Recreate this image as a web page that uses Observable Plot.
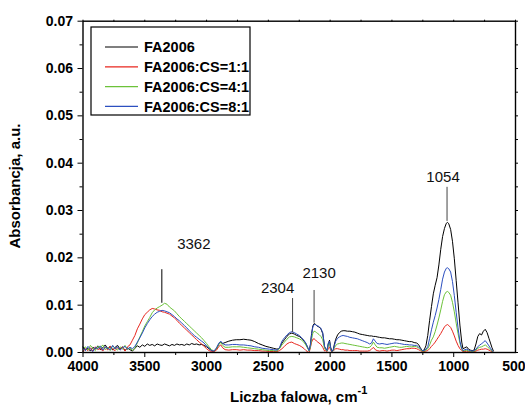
<!DOCTYPE html>
<html><head><meta charset="utf-8">
<script src="https://cdn.jsdelivr.net/npm/d3@7"></script>
<script src="https://cdn.jsdelivr.net/npm/@observablehq/plot@0.6"></script>
<style>
html,body{margin:0;padding:0;background:#fff;}
#chart{position:relative;width:525px;height:414px;}
</style></head><body><div id="chart"></div>
<script>
// Wavenumber grid (cm-1), shared by all series
const wavenumber = [
  4000,3980,3960,3940,3920,3900,3880,3860,3840,3820,3800,3780,3760,3740,3720,3700,3680,3660,3640,3620,3600,
  3580,3560,3540,3520,3500,3480,3460,3440,3420,3400,3380,3360,3340,3320,3300,3280,3260,3240,3220,3200,3180,3160,3140,3120,3100,3080,3060,3040,3020,3000,2980,2960,2940,
  2920,2900,2885,2870,2850,2820,2790,2760,2730,2700,2670,2640,2610,2580,2550,2520,2490,2460,2430,2410,
  2390,2370,2350,2330,2310,2290,2270,2250,2230,2210,2195,2180,2170,2160,2150,2140,2130,2120,2110,2100,2090,2075,2060,2045,
  2035,2025,2015,2005,1995,1985,1975,1965,1955,1940,1925,1910,1895,1880,1860,1840,1820,1800,1780,1760,1740,1720,1700,1680,1665,1650,1635,1620,1600,1580,1560,1540,1520,1500,1480,1460,1440,1420,1400,1380,1360,1340,1320,1300,1285,1270,1255,
  1240,1225,1210,1195,1180,1165,1150,1135,1120,1105,1090,1075,1060,1050,1040,1025,1010,995,980,965,950,935,925,910,895,880,865,850,835,820,805,790,775,760,745,730,715,700,690,680
];
const fa2006 = [
  0.0012,0.0005,0.0009,0.0003,0.0011,0.0007,0.0014,0.0006,0.0010,0.0016,0.0008,0.0013,0.0005,0.0011,0.0015,0.0007,0.0012,0.0004,0.0010,0.0006,0.0003,
  0.0009,0.0014,0.0011,0.0016,0.0013,0.0018,0.0015,0.0017,0.0014,0.0018,0.0016,0.0015,0.0018,0.0016,0.0014,0.0017,0.0015,0.0018,0.0016,0.0017,0.0015,0.0018,0.0016,0.0019,0.0017,0.0018,0.0016,0.0017,0.0015,0.0012,0.0008,0.0004,0.0002,
  0.0008,0.0018,0.0022,0.0019,0.0021,0.0024,0.0026,0.0027,0.0027,0.0028,0.0027,0.0026,0.0023,0.0019,0.0016,0.0013,0.0011,0.0009,0.0007,0.0009,
  0.0020,0.0027,0.0034,0.0039,0.0041,0.0039,0.0036,0.0034,0.0030,0.0024,0.0018,0.0009,0.0004,0.0016,0.0040,0.0056,0.0061,0.0060,0.0057,0.0055,0.0054,0.0050,0.0040,0.0012,
  0.0008,0.0004,0.0018,0.0026,0.0010,0.0003,0.0006,0.0018,0.0028,0.0037,0.0042,0.0045,0.0046,0.0046,0.0045,0.0045,0.0044,0.0043,0.0041,0.0039,0.0038,0.0037,0.0036,0.0035,0.0035,0.0034,0.0034,0.0033,0.0032,0.0031,0.0031,0.0030,0.0029,0.0029,0.0028,0.0027,0.0027,0.0026,0.0025,0.0024,0.0023,0.0023,0.0021,0.0020,0.0017,0.0010,0.0004,
  0.0005,0.0014,0.0036,0.0068,0.0097,0.0124,0.0142,0.0158,0.0185,0.0218,0.0245,0.0262,0.0273,0.0275,0.0272,0.0260,0.0235,0.0198,0.0152,0.0105,0.0058,0.0022,0.0008,0.0010,0.0012,0.0007,0.0005,0.0004,0.0005,0.0018,0.0034,0.0040,0.0037,0.0045,0.0049,0.0042,0.0030,0.0018,0.0010,0.0004
];
const fa2006cs11 = [
  0.0002,0.0008,0.0004,0.0010,0.0003,0.0012,0.0006,0.0009,0.0003,0.0011,0.0005,0.0013,0.0007,0.0004,0.0010,0.0006,0.0012,0.0003,0.0012,0.0016,0.0026,
  0.0036,0.0050,0.0060,0.0071,0.0080,0.0085,0.0090,0.0093,0.0092,0.0090,0.0089,0.0086,0.0085,0.0083,0.0081,0.0077,0.0073,0.0068,0.0062,0.0057,0.0052,0.0047,0.0042,0.0037,0.0032,0.0027,0.0022,0.0018,0.0013,0.0008,0.0004,0.0002,0.0002,
  0.0005,0.0013,0.0016,0.0010,0.0006,0.0005,0.0006,0.0006,0.0005,0.0006,0.0005,0.0005,0.0004,0.0004,0.0003,0.0003,0.0002,0.0002,0.0002,0.0004,
  0.0008,0.0013,0.0018,0.0021,0.0022,0.0019,0.0017,0.0015,0.0012,0.0008,0.0004,0.0001,0.0000,0.0010,0.0022,0.0028,0.0029,0.0027,0.0024,0.0022,0.0020,0.0017,0.0011,0.0003,
  0.0004,0.0002,0.0008,0.0012,0.0004,0.0001,0.0003,0.0006,0.0008,0.0008,0.0007,0.0006,0.0006,0.0005,0.0005,0.0004,0.0004,0.0004,0.0004,0.0003,0.0003,0.0003,0.0003,0.0004,0.0007,0.0011,0.0006,0.0004,0.0003,0.0004,0.0004,0.0003,0.0004,0.0005,0.0005,0.0004,0.0005,0.0006,0.0007,0.0008,0.0008,0.0009,0.0009,0.0008,0.0006,0.0004,0.0002,
  0.0002,0.0003,0.0004,0.0008,0.0013,0.0017,0.0022,0.0028,0.0034,0.0040,0.0047,0.0054,0.0058,0.0059,0.0057,0.0053,0.0045,0.0035,0.0024,0.0015,0.0008,0.0004,0.0002,0.0002,0.0003,0.0002,0.0002,0.0001,0.0002,0.0003,0.0005,0.0006,0.0007,0.0007,0.0008,0.0007,0.0005,0.0003,0.0002,0.0001
];
const fa2006cs41 = [
  0.0008,0.0012,0.0005,0.0015,0.0009,0.0004,0.0013,0.0010,0.0016,0.0006,0.0011,0.0004,0.0014,0.0009,0.0005,0.0012,0.0007,0.0015,0.0006,0.0010,0.0004,
  0.0010,0.0020,0.0033,0.0044,0.0056,0.0065,0.0074,0.0084,0.0090,0.0094,0.0097,0.0100,0.0104,0.0102,0.0096,0.0092,0.0088,0.0082,0.0076,0.0071,0.0066,0.0061,0.0056,0.0051,0.0046,0.0041,0.0036,0.0031,0.0025,0.0019,0.0012,0.0006,0.0003,
  0.0008,0.0018,0.0021,0.0015,0.0011,0.0011,0.0012,0.0012,0.0012,0.0011,0.0010,0.0009,0.0008,0.0007,0.0006,0.0005,0.0004,0.0004,0.0003,0.0008,
  0.0016,0.0022,0.0028,0.0033,0.0034,0.0033,0.0031,0.0029,0.0026,0.0021,0.0015,0.0008,0.0003,0.0011,0.0028,0.0041,0.0045,0.0044,0.0042,0.0040,0.0038,0.0034,0.0027,0.0008,
  0.0006,0.0003,0.0017,0.0020,0.0006,0.0002,0.0004,0.0010,0.0015,0.0018,0.0019,0.0020,0.0020,0.0019,0.0018,0.0017,0.0016,0.0015,0.0014,0.0013,0.0012,0.0011,0.0010,0.0011,0.0015,0.0022,0.0016,0.0011,0.0010,0.0010,0.0009,0.0010,0.0011,0.0012,0.0013,0.0012,0.0011,0.0011,0.0012,0.0013,0.0012,0.0012,0.0013,0.0012,0.0010,0.0006,0.0003,
  0.0003,0.0005,0.0008,0.0016,0.0026,0.0033,0.0044,0.0058,0.0073,0.0090,0.0108,0.0122,0.0128,0.0129,0.0127,0.0121,0.0106,0.0086,0.0062,0.0040,0.0020,0.0007,0.0003,0.0004,0.0005,0.0003,0.0003,0.0002,0.0003,0.0005,0.0009,0.0011,0.0012,0.0014,0.0016,0.0013,0.0009,0.0005,0.0003,0.0001
];
const fa2006cs81 = [
  0.0010,0.0004,0.0013,0.0007,0.0002,0.0011,0.0008,0.0014,0.0005,0.0012,0.0009,0.0006,0.0015,0.0008,0.0012,0.0005,0.0010,0.0013,0.0007,0.0011,0.0008,
  0.0013,0.0022,0.0031,0.0041,0.0052,0.0061,0.0069,0.0076,0.0081,0.0085,0.0087,0.0089,0.0088,0.0086,0.0084,0.0080,0.0076,0.0071,0.0067,0.0062,0.0057,0.0052,0.0046,0.0041,0.0036,0.0032,0.0028,0.0024,0.0020,0.0014,0.0009,0.0004,0.0003,
  0.0010,0.0020,0.0024,0.0019,0.0016,0.0016,0.0017,0.0017,0.0016,0.0016,0.0015,0.0014,0.0012,0.0011,0.0009,0.0008,0.0007,0.0006,0.0005,0.0010,
  0.0024,0.0031,0.0037,0.0042,0.0044,0.0042,0.0039,0.0036,0.0031,0.0025,0.0019,0.0010,0.0004,0.0015,0.0038,0.0054,0.0059,0.0059,0.0057,0.0056,0.0055,0.0051,0.0042,0.0013,
  0.0008,0.0004,0.0020,0.0024,0.0008,0.0002,0.0005,0.0015,0.0024,0.0030,0.0033,0.0035,0.0036,0.0035,0.0034,0.0032,0.0031,0.0030,0.0029,0.0027,0.0025,0.0023,0.0021,0.0018,0.0020,0.0029,0.0024,0.0019,0.0018,0.0019,0.0018,0.0017,0.0018,0.0019,0.0020,0.0020,0.0019,0.0018,0.0017,0.0017,0.0016,0.0016,0.0015,0.0015,0.0012,0.0008,0.0004,
  0.0004,0.0007,0.0012,0.0030,0.0048,0.0064,0.0078,0.0094,0.0112,0.0133,0.0155,0.0170,0.0178,0.0179,0.0177,0.0170,0.0150,0.0120,0.0085,0.0052,0.0024,0.0008,0.0004,0.0006,0.0007,0.0005,0.0004,0.0003,0.0004,0.0007,0.0012,0.0016,0.0018,0.0022,0.0025,0.0020,0.0014,0.0008,0.0004,0.0002
];
const seriesNames = ["FA2006", "FA2006:CS=1:1", "FA2006:CS=4:1", "FA2006:CS=8:1"];
const seriesColors = ["#000000", "#e8261e", "#6cc23a", "#2c4fc0"];
const xMajorTicks = [4000, 3500, 3000, 2500, 2000, 1500, 1000];
const xEdgeTick = [500];
const xMinorTicks = [3750, 3250, 2750, 2250, 1750, 1250, 750];
const yMajorTicks = [0, 0.01, 0.02, 0.03, 0.04, 0.05, 0.06, 0.07];
const yMinorTicks = [0.005, 0.015, 0.025, 0.035, 0.045, 0.055, 0.065];
const peakLabels = ["3362", "2304", "2130", "1054"];
const peakWavenumber = [3362, 2304, 2130, 1054];
const peakLineLow = [0.0104, 0.0042, 0.0062, 0.0277];
const peakLineHigh = [0.0175, 0.0114, 0.0131, 0.0349];

const allSeries = [fa2006, fa2006cs11, fa2006cs41, fa2006cs81];
const rows = [];
allSeries.forEach((vals, i) => vals.forEach((v, j) => rows.push({wn: wavenumber[j], a: v, s: seriesNames[i]})));
const peaks = peakLabels.map((t, i) => ({t, wn: peakWavenumber[i], lo: peakLineLow[i], hi: peakLineHigh[i]}));
const labelOffsets = [[32, -25], [-15, -10], [5, -17], [-4, -10]];
const blank = () => "";

const svg = Plot.plot({
  width: 525, height: 414,
  marginLeft: 82.5, marginRight: 10, marginTop: 20.7, marginBottom: 62,
  style: {fontFamily: "'Liberation Sans', Arial, sans-serif", fontSize: "14px", fontWeight: "bold", color: "#000", background: "#fff"},
  x: {domain: [4000, 500]},
  y: {domain: [0, 0.07]},
  color: {domain: seriesNames, range: seriesColors},
  marks: [
    Plot.line(rows, {x: "wn", y: "a", z: "s", stroke: "s", strokeWidth: 1}),
    Plot.ruleX(peaks, {x: "wn", y1: "lo", y2: "hi", stroke: (d, i) => i === 0 ? "#000" : "#444", strokeWidth: 1}),
    ...peaks.map((p, i) => Plot.text([p], {x: "wn", y: "hi", text: "t", dx: labelOffsets[i][0], dy: labelOffsets[i][1], fontSize: 15, fontWeight: "normal", fill: "#111"})),
    Plot.axisX(xMajorTicks, {tickSize: 5, tickPadding: 4, tickFormat: d => String(d), label: null}),
    Plot.axisX(xEdgeTick, {tickSize: 5, tickPadding: 4, tickFormat: d => String(d), label: null, textAnchor: "end", dx: 10}),
    Plot.axisX(xMinorTicks, {tickSize: 3, tickFormat: blank, label: null}),
    Plot.axisX([...xMajorTicks, ...xEdgeTick, ...xMinorTicks], {anchor: "top", tickSize: 2, tickFormat: blank, label: null}),
    Plot.axisY(yMajorTicks, {tickSize: 5, tickPadding: 5, tickFormat: d3.format(".2f"), label: null}),
    Plot.axisY(yMinorTicks, {tickSize: 3, tickFormat: blank, label: null}),
    Plot.axisY([...yMajorTicks, ...yMinorTicks], {anchor: "right", tickSize: 2, tickFormat: blank, label: null}),
    Plot.frame({stroke: "#000", strokeWidth: 1.4})
  ]
});
document.getElementById("chart").appendChild(svg);

// Axis titles and legend
const s = d3.select(svg);
s.append("text")
  .attr("transform", "translate(20,186) rotate(-90)")
  .attr("text-anchor", "middle").attr("font-size", 15).attr("font-weight", "bold").attr("fill", "#000")
  .text("Absorbancja, a.u.");
const xl = s.append("text").attr("x", 230).attr("y", 402).attr("text-anchor", "start")
  .attr("font-size", 15).attr("font-weight", "bold").attr("fill", "#000");
xl.append("tspan").text("Liczba falowa, cm");
xl.append("tspan").attr("dy", -8).attr("font-size", 11).text("-1");

const lg = s.append("g");
lg.append("rect").attr("x", 91).attr("y", 27).attr("width", 159).attr("height", 88)
  .attr("fill", "#fff").attr("stroke", "#000").attr("stroke-width", 1.2);
seriesNames.forEach((n, i) => {
  const cy = 47 + i * 19.8;
  lg.append("line").attr("x1", 105).attr("x2", 138).attr("y1", cy).attr("y2", cy).attr("stroke", seriesColors[i]).attr("stroke-width", 1.2);
  lg.append("text").attr("x", 144).attr("y", cy).attr("dy", "0.36em").attr("text-anchor", "start")
    .attr("font-size", 14.5).attr("font-weight", "bold").attr("fill", "#000").text(n);
});
</script></body></html>
